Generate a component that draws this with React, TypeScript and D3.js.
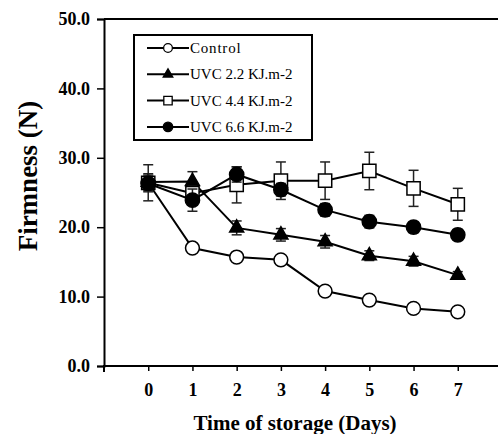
import React, { useEffect, useRef } from "react";
import * as d3 from "d3";

const days = [0, 1, 2, 3, 4, 5, 6, 7];
const yTicks = [0, 10, 20, 30, 40, 50];

const seriesNames = [
  "Control",
  "UVC 2.2 KJ.m-2",
  "UVC 4.4 KJ.m-2",
  "UVC 6.6 KJ.m-2",
];

const control = [26.4, 17.0, 15.7, 15.3, 10.8, 9.5, 8.3, 7.8];
const controlErr = [0.4, 0.4, 0.4, 0.4, 0.4, 0.4, 0.4, 0.4];

const uvc22 = [26.5, 26.6, 19.9, 18.9, 17.9, 15.9, 15.1, 13.1];
const uvc22Err = [1.2, 1.4, 1.0, 0.9, 0.9, 0.7, 0.7, 0.5];

const uvc44 = [26.4, 24.9, 26.1, 26.7, 26.7, 28.1, 25.6, 23.3];
const uvc44Err = [2.6, 1.0, 2.6, 2.7, 2.7, 2.7, 2.6, 2.3];

const uvc66 = [26.3, 23.9, 27.6, 25.4, 22.5, 20.8, 20.0, 18.9];
const uvc66Err = [1.2, 1.6, 1.1, 0.9, 0.9, 0.9, 0.8, 0.8];

const seriesValues = [control, uvc22, uvc44, uvc66];
const seriesErrors = [controlErr, uvc22Err, uvc44Err, uvc66Err];

const width = 498;
const height = 434;
const margin = { top: 19, right: 0, bottom: 68, left: 104 };
const font = "'Liberation Serif', 'Times New Roman', serif";

// marker look per series
const markers = [
  { type: d3.symbolCircle, fill: "#fff", size: 150, legendSize: 60 },
  { type: d3.symbolTriangle, fill: "#000", size: 85, legendSize: 40 },
  { type: d3.symbolSquare, fill: "#fff", size: 175, legendSize: 70 },
  { type: d3.symbolCircle, fill: "#000", size: 160, legendSize: 70 },
];

export default function App() {
  const svgRef = useRef<SVGSVGElement>(null);

  useEffect(() => {
    const svg = d3.select(svgRef.current);
    svg.selectAll("*").remove();

    const x = d3
      .scaleLinear()
      .domain([-1, 8])
      .range([margin.left, margin.left + 398]);
    const y = d3
      .scaleLinear()
      .domain([0, 50])
      .range([height - margin.bottom, margin.top]);

    // frame top line
    svg
      .append("line")
      .attr("x1", margin.left)
      .attr("x2", width)
      .attr("y1", y(50))
      .attr("y2", y(50))
      .attr("stroke", "#000")
      .attr("stroke-width", 2);

    // y axis
    const yAxis = svg
      .append("g")
      .attr("transform", `translate(${margin.left},0)`)
      .call(
        d3
          .axisLeft(y)
          .tickValues(yTicks)
          .tickSize(7)
          .tickPadding(7)
          .tickFormat(d3.format(".1f"))
      );
    yAxis.attr("font-family", null);
    yAxis.select(".domain").attr("stroke-width", 2);
    yAxis.selectAll(".tick line").attr("stroke-width", 1.5);
    yAxis
      .selectAll(".tick text")
      .style("font-family", font)
      .style("font-size", "18px")
      .style("font-weight", "bold")
      .attr("fill", "#000");

    // x axis
    const xAxis = svg
      .append("g")
      .attr("transform", `translate(0,${y(0)})`)
      .call(
        d3
          .axisBottom(x)
          .tickValues(days)
          .tickSize(5)
          .tickPadding(12)
          .tickFormat(d3.format("d"))
      );
    xAxis.attr("font-family", null);
    xAxis.select(".domain").attr("d", `M${margin.left},6V0H${width}`).attr("stroke-width", 2);
    xAxis.selectAll(".tick line").attr("stroke-width", 1.5);
    xAxis
      .selectAll(".tick text")
      .style("font-family", font)
      .style("font-size", "18px")
      .style("font-weight", "bold")
      .attr("fill", "#000");

    // axis titles
    svg
      .append("text")
      .attr("x", 295)
      .attr("y", 430)
      .attr("text-anchor", "middle")
      .style("font-family", font)
      .style("font-size", "21px")
      .style("font-weight", "bold")
      .text("Time of storage (Days)");

    svg
      .append("text")
      .attr("transform", `translate(37,${176}) rotate(-90)`)
      .attr("text-anchor", "middle")
      .style("font-family", font)
      .style("font-size", "27px")
      .style("font-weight", "bold")
      .text("Firmness (N)");

    const line = d3
      .line<number>()
      .x((_, i) => x(days[i]))
      .y((d) => y(d));

    seriesValues.forEach((values, s) => {
      const errs = seriesErrors[s];
      const g = svg.append("g");

      // error bars
      const eb = g
        .selectAll(".err")
        .data(values)
        .enter()
        .append("g")
        .attr("stroke", "#222")
        .attr("stroke-width", 1.5);
      eb.append("line")
        .attr("x1", (_, i) => x(days[i]))
        .attr("x2", (_, i) => x(days[i]))
        .attr("y1", (d, i) => y(d + errs[i]))
        .attr("y2", (d, i) => y(d - errs[i]));
      eb.append("line")
        .attr("x1", (_, i) => x(days[i]) - 5)
        .attr("x2", (_, i) => x(days[i]) + 5)
        .attr("y1", (d, i) => y(d + errs[i]))
        .attr("y2", (d, i) => y(d + errs[i]));
      eb.append("line")
        .attr("x1", (_, i) => x(days[i]) - 5)
        .attr("x2", (_, i) => x(days[i]) + 5)
        .attr("y1", (d, i) => y(d - errs[i]))
        .attr("y2", (d, i) => y(d - errs[i]));

      g.append("path")
        .datum(values)
        .attr("fill", "none")
        .attr("stroke", "#000")
        .attr("stroke-width", 2)
        .attr("d", line);

      const m = markers[s];
      g.selectAll(".pt")
        .data(values)
        .enter()
        .append("path")
        .attr("transform", (d, i) => `translate(${x(days[i])},${y(d)})`)
        .attr("d", d3.symbol().type(m.type).size(m.size)())
        .attr("fill", m.fill)
        .attr("stroke", "#000")
        .attr("stroke-width", 1.5);
    });

    // legend
    const lg = svg.append("g");
    lg.append("rect")
      .attr("x", 134)
      .attr("y", 35)
      .attr("width", 178)
      .attr("height", 105)
      .attr("fill", "#fff")
      .attr("stroke", "#000")
      .attr("stroke-width", 2);

    seriesNames.forEach((name, s) => {
      const cy = 48 + s * 26.3;
      const m = markers[s];
      lg.append("line")
        .attr("x1", 147)
        .attr("x2", 189)
        .attr("y1", cy)
        .attr("y2", cy)
        .attr("stroke", "#000")
        .attr("stroke-width", 2);
      lg.append("path")
        .attr("transform", `translate(168,${cy})`)
        .attr("d", d3.symbol().type(m.type).size(m.legendSize)())
        .attr("fill", m.fill)
        .attr("stroke", "#000")
        .attr("stroke-width", 1.3);
      lg.append("text")
        .attr("x", 190)
        .attr("y", cy + 5)
        .style("font-family", font)
        .style("font-size", "15px")
        .style("letter-spacing", s === 0 ? "0.8px" : "0px")
        .text(name);
    });
  }, []);

  return (
    <svg
      ref={svgRef}
      width={width}
      height={height}
      style={{ position: "absolute", left: 0, top: 0, background: "#fff" }}
    />
  );
}
